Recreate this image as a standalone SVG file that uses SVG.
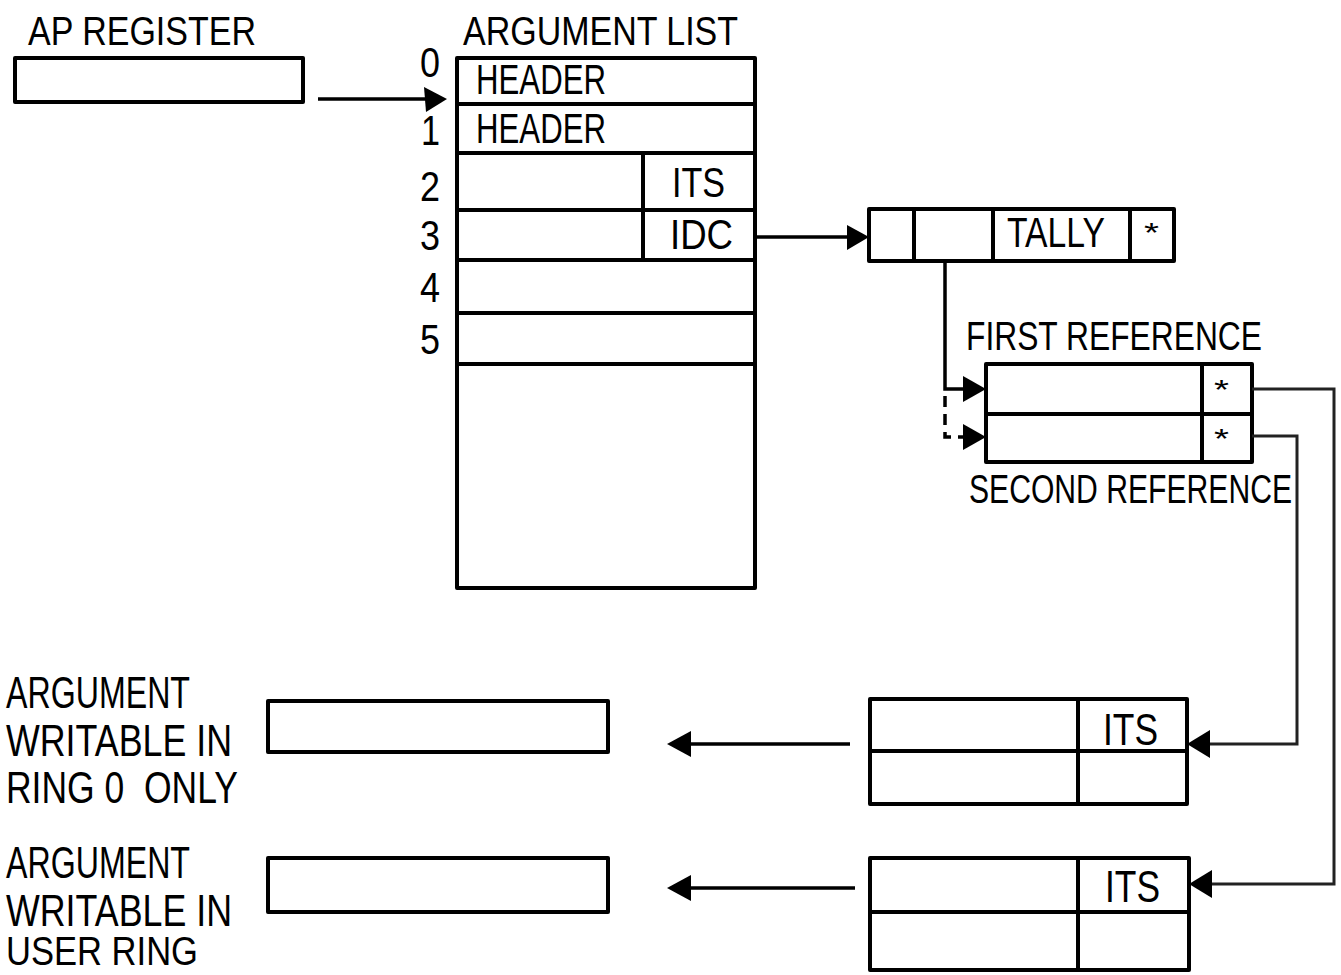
<svg xmlns="http://www.w3.org/2000/svg" width="1341" height="975" viewBox="0 0 1341 975">
<style>
.t{font-family:"Liberation Sans",Arial,sans-serif;fill:#000;}
.b{fill:none;stroke:#000;stroke-width:4;stroke-linejoin:round;}
.c{fill:none;stroke:#000;stroke-width:3.5;}
.thin{fill:none;stroke:#222;stroke-width:3;}
.dash{fill:none;stroke:#000;stroke-width:3.5;stroke-dasharray:11 7;}
.ah{fill:#000;stroke:none;}
</style>
<rect width="1341" height="975" fill="#fff"/>
<g id="ap-register">
<text class="t" x="28" y="45" font-size="40" textLength="228" lengthAdjust="spacingAndGlyphs">AP REGISTER</text>
<rect class="b" x="15" y="58" width="288" height="44"/>
</g>
<g id="argument-list">
<text class="t" x="463" y="45" font-size="40" textLength="275" lengthAdjust="spacingAndGlyphs">ARGUMENT LIST</text>
<rect class="b" x="457" y="58" width="298" height="530"/>
<path class="b" d="M457 104H755M457 153H755M457 210H755M457 260H755M457 313H755M457 364H755M643 153V260"/>
<text class="t" x="476" y="94" font-size="42" textLength="130" lengthAdjust="spacingAndGlyphs">HEADER</text>
<text class="t" x="476" y="143" font-size="42" textLength="130" lengthAdjust="spacingAndGlyphs">HEADER</text>
<text class="t" x="672" y="197" font-size="42" textLength="53" lengthAdjust="spacingAndGlyphs">ITS</text>
<text class="t" x="670" y="249" font-size="42" textLength="63" lengthAdjust="spacingAndGlyphs">IDC</text>
<text class="t" x="420" y="77" font-size="42" textLength="20" lengthAdjust="spacingAndGlyphs">0</text>
<text class="t" x="421" y="145" font-size="42" textLength="19" lengthAdjust="spacingAndGlyphs">1</text>
<text class="t" x="420" y="201" font-size="42" textLength="20" lengthAdjust="spacingAndGlyphs">2</text>
<text class="t" x="420" y="250" font-size="42" textLength="20" lengthAdjust="spacingAndGlyphs">3</text>
<text class="t" x="420" y="302" font-size="42" textLength="20" lengthAdjust="spacingAndGlyphs">4</text>
<text class="t" x="420" y="354" font-size="42" textLength="20" lengthAdjust="spacingAndGlyphs">5</text>
</g>
<g id="tally">
<rect class="b" x="869" y="209" width="305" height="52"/>
<path class="b" d="M914 209V261M993 209V261M1130 209V261"/>
<text class="t" x="1007" y="247" font-size="42" textLength="98" lengthAdjust="spacingAndGlyphs">TALLY</text>
<text class="t" x="1144" y="242" font-size="28" textLength="15" lengthAdjust="spacingAndGlyphs">*</text>
</g>
<g id="references">
<text class="t" x="966" y="350" font-size="40" textLength="296" lengthAdjust="spacingAndGlyphs">FIRST REFERENCE</text>
<rect class="b" x="986" y="364" width="266" height="98"/>
<path class="b" d="M986 414H1252M1202 364V462"/>
<text class="t" x="1214" y="399" font-size="28" textLength="15" lengthAdjust="spacingAndGlyphs">*</text>
<text class="t" x="1214" y="448" font-size="28" textLength="15" lengthAdjust="spacingAndGlyphs">*</text>
<text class="t" x="969" y="503" font-size="40" textLength="323" lengthAdjust="spacingAndGlyphs">SECOND REFERENCE</text>
</g>
<g id="argument-ring0">
<text class="t" x="6" y="708" font-size="44" textLength="184" lengthAdjust="spacingAndGlyphs">ARGUMENT</text>
<text class="t" x="6" y="756" font-size="44" textLength="226" lengthAdjust="spacingAndGlyphs">WRITABLE IN</text>
<text class="t" x="6" y="803" font-size="44" textLength="232" lengthAdjust="spacingAndGlyphs" xml:space="preserve">RING 0  ONLY</text>
<rect class="b" x="268" y="701" width="340" height="51"/>
</g>
<g id="argument-user">
<text class="t" x="6" y="878" font-size="44" textLength="184" lengthAdjust="spacingAndGlyphs">ARGUMENT</text>
<text class="t" x="6" y="926" font-size="44" textLength="226" lengthAdjust="spacingAndGlyphs">WRITABLE IN</text>
<text class="t" x="6" y="965" font-size="41" textLength="192" lengthAdjust="spacingAndGlyphs">USER RING</text>
<rect class="b" x="268" y="858" width="340" height="54"/>
</g>
<g id="its-pair-1">
<rect class="b" x="870" y="699" width="317" height="105"/>
<path class="b" d="M870 751H1187M1078 699V804"/>
<text class="t" x="1103" y="745" font-size="44" textLength="55" lengthAdjust="spacingAndGlyphs">ITS</text>
</g>
<g id="its-pair-2">
<rect class="b" x="870" y="858" width="319" height="112"/>
<path class="b" d="M870 912H1189M1078 858V970"/>
<text class="t" x="1105" y="902" font-size="44" textLength="55" lengthAdjust="spacingAndGlyphs">ITS</text>
</g>
<g id="connectors">
<path class="c" d="M318 99H428"/>
<path class="ah" d="M447 99L424 87L426 112Z"/>
<path class="c" d="M757 237H850"/>
<path class="ah" d="M869 237L847 225L847 250Z"/>
<path class="c" d="M945 261V389H964"/>
<path class="ah" d="M986 389L963 376L963 402Z"/>
<path class="dash" d="M945 396V437H964"/>
<path class="ah" d="M986 437L963 424L963 450Z"/>
<path class="thin" d="M1252 389H1334V884H1210"/>
<path class="ah" d="M1189 884L1212 870L1212 898Z"/>
<path class="thin" d="M1252 436H1297V744H1208"/>
<path class="ah" d="M1187 744L1210 730L1210 758Z"/>
<path class="c" d="M850 744H688"/>
<path class="ah" d="M667 744L691 731L691 757Z"/>
<path class="c" d="M855 888H688"/>
<path class="ah" d="M667 888L691 875L691 901Z"/>
</g>
</svg>
